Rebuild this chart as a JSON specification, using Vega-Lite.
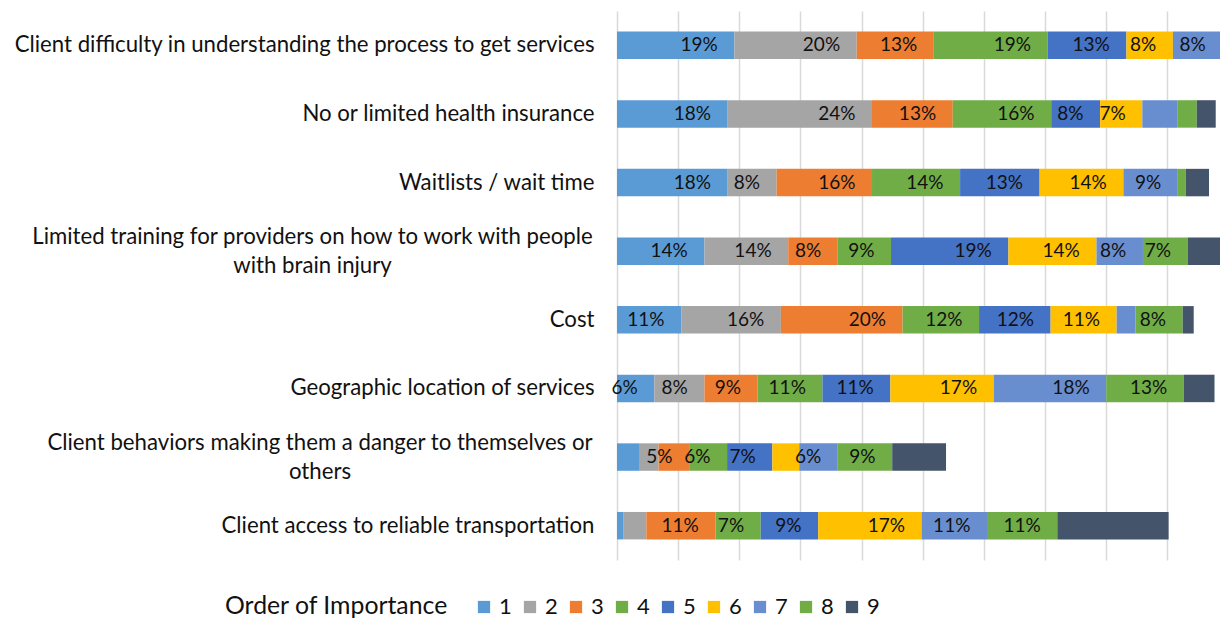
{
  "$schema": "https://vega.github.io/schema/vega-lite/v6.json",
  "width": 603,
  "height": 549,
  "autosize": {"type": "none"},
  "padding": {"left": 617, "top": 11, "right": 0, "bottom": 60},
  "background": "white",
  "config": {
    "font": "Lato",
    "view": {"stroke": null},
    "axis": {"labelFont": "Lato", "titleFont": "Lato"},
    "legend": {"labelFont": "Lato", "titleFont": "Lato"}
  },
  "data": {
    "values": [
      {"item": "Client difficulty in understanding the process to get services", "rank": 1, "pct": 19.2, "label": "19%"},
      {"item": "Client difficulty in understanding the process to get services", "rank": 2, "pct": 20.0, "label": "20%"},
      {"item": "Client difficulty in understanding the process to get services", "rank": 3, "pct": 12.6, "label": "13%"},
      {"item": "Client difficulty in understanding the process to get services", "rank": 4, "pct": 18.6, "label": "19%"},
      {"item": "Client difficulty in understanding the process to get services", "rank": 5, "pct": 12.9, "label": "13%"},
      {"item": "Client difficulty in understanding the process to get services", "rank": 6, "pct": 7.6, "label": "8%"},
      {"item": "Client difficulty in understanding the process to get services", "rank": 7, "pct": 8.1, "label": "8%"},
      {"item": "Client difficulty in understanding the process to get services", "rank": 8, "pct": 0.5, "label": ""},
      {"item": "Client difficulty in understanding the process to get services", "rank": 9, "pct": 0.5, "label": ""},

      {"item": "No or limited health insurance", "rank": 1, "pct": 18.1, "label": "18%"},
      {"item": "No or limited health insurance", "rank": 2, "pct": 23.6, "label": "24%"},
      {"item": "No or limited health insurance", "rank": 3, "pct": 13.2, "label": "13%"},
      {"item": "No or limited health insurance", "rank": 4, "pct": 16.1, "label": "16%"},
      {"item": "No or limited health insurance", "rank": 5, "pct": 8.0, "label": "8%"},
      {"item": "No or limited health insurance", "rank": 6, "pct": 6.9, "label": "7%"},
      {"item": "No or limited health insurance", "rank": 7, "pct": 5.7, "label": ""},
      {"item": "No or limited health insurance", "rank": 8, "pct": 3.2, "label": ""},
      {"item": "No or limited health insurance", "rank": 9, "pct": 3.1, "label": ""},

      {"item": "Waitlists / wait time", "rank": 1, "pct": 18.1, "label": "18%"},
      {"item": "Waitlists / wait time", "rank": 2, "pct": 8.0, "label": "8%"},
      {"item": "Waitlists / wait time", "rank": 3, "pct": 15.6, "label": "16%"},
      {"item": "Waitlists / wait time", "rank": 4, "pct": 14.4, "label": "14%"},
      {"item": "Waitlists / wait time", "rank": 5, "pct": 13.0, "label": "13%"},
      {"item": "Waitlists / wait time", "rank": 6, "pct": 13.7, "label": "14%"},
      {"item": "Waitlists / wait time", "rank": 7, "pct": 8.9, "label": "9%"},
      {"item": "Waitlists / wait time", "rank": 8, "pct": 1.3, "label": ""},
      {"item": "Waitlists / wait time", "rank": 9, "pct": 3.8, "label": ""},

      {"item": "Limited training for providers on how to work with people with brain injury", "rank": 1, "pct": 14.3, "label": "14%"},
      {"item": "Limited training for providers on how to work with people with brain injury", "rank": 2, "pct": 13.7, "label": "14%"},
      {"item": "Limited training for providers on how to work with people with brain injury", "rank": 3, "pct": 8.1, "label": "8%"},
      {"item": "Limited training for providers on how to work with people with brain injury", "rank": 4, "pct": 8.7, "label": "9%"},
      {"item": "Limited training for providers on how to work with people with brain injury", "rank": 5, "pct": 19.2, "label": "19%"},
      {"item": "Limited training for providers on how to work with people with brain injury", "rank": 6, "pct": 14.4, "label": "14%"},
      {"item": "Limited training for providers on how to work with people with brain injury", "rank": 7, "pct": 7.6, "label": "8%"},
      {"item": "Limited training for providers on how to work with people with brain injury", "rank": 8, "pct": 7.3, "label": "7%"},
      {"item": "Limited training for providers on how to work with people with brain injury", "rank": 9, "pct": 6.7, "label": ""},

      {"item": "Cost", "rank": 1, "pct": 10.5, "label": "11%"},
      {"item": "Cost", "rank": 2, "pct": 16.3, "label": "16%"},
      {"item": "Cost", "rank": 3, "pct": 19.9, "label": "20%"},
      {"item": "Cost", "rank": 4, "pct": 12.5, "label": "12%"},
      {"item": "Cost", "rank": 5, "pct": 11.7, "label": "12%"},
      {"item": "Cost", "rank": 6, "pct": 10.8, "label": "11%"},
      {"item": "Cost", "rank": 7, "pct": 3.1, "label": ""},
      {"item": "Cost", "rank": 8, "pct": 7.7, "label": "8%"},
      {"item": "Cost", "rank": 9, "pct": 1.8, "label": ""},

      {"item": "Geographic location of services", "rank": 1, "pct": 6.1, "label": "6%"},
      {"item": "Geographic location of services", "rank": 2, "pct": 8.2, "label": "8%"},
      {"item": "Geographic location of services", "rank": 3, "pct": 8.7, "label": "9%"},
      {"item": "Geographic location of services", "rank": 4, "pct": 10.6, "label": "11%"},
      {"item": "Geographic location of services", "rank": 5, "pct": 11.1, "label": "11%"},
      {"item": "Geographic location of services", "rank": 6, "pct": 16.9, "label": "17%"},
      {"item": "Geographic location of services", "rank": 7, "pct": 18.4, "label": "18%"},
      {"item": "Geographic location of services", "rank": 8, "pct": 12.7, "label": "13%"},
      {"item": "Geographic location of services", "rank": 9, "pct": 5.0, "label": ""},

      {"item": "Client behaviors making them a danger to themselves or others", "rank": 1, "pct": 3.6, "label": ""},
      {"item": "Client behaviors making them a danger to themselves or others", "rank": 2, "pct": 3.2, "label": ""},
      {"item": "Client behaviors making them a danger to themselves or others", "rank": 3, "pct": 5.0, "label": "5%"},
      {"item": "Client behaviors making them a danger to themselves or others", "rank": 4, "pct": 6.2, "label": "6%"},
      {"item": "Client behaviors making them a danger to themselves or others", "rank": 5, "pct": 7.4, "label": "7%"},
      {"item": "Client behaviors making them a danger to themselves or others", "rank": 6, "pct": 4.4, "label": ""},
      {"item": "Client behaviors making them a danger to themselves or others", "rank": 7, "pct": 6.3, "label": "6%"},
      {"item": "Client behaviors making them a danger to themselves or others", "rank": 8, "pct": 8.9, "label": "9%"},
      {"item": "Client behaviors making them a danger to themselves or others", "rank": 9, "pct": 8.8, "label": ""},

      {"item": "Client access to reliable transportation", "rank": 1, "pct": 1.0, "label": ""},
      {"item": "Client access to reliable transportation", "rank": 2, "pct": 3.8, "label": ""},
      {"item": "Client access to reliable transportation", "rank": 3, "pct": 11.3, "label": "11%"},
      {"item": "Client access to reliable transportation", "rank": 4, "pct": 7.4, "label": "7%"},
      {"item": "Client access to reliable transportation", "rank": 5, "pct": 9.4, "label": "9%"},
      {"item": "Client access to reliable transportation", "rank": 6, "pct": 16.9, "label": "17%"},
      {"item": "Client access to reliable transportation", "rank": 7, "pct": 10.7, "label": "11%"},
      {"item": "Client access to reliable transportation", "rank": 8, "pct": 11.5, "label": "11%"},
      {"item": "Client access to reliable transportation", "rank": 9, "pct": 18.2, "label": ""}
    ]
  },
  "transform": [
    {"stack": "pct", "groupby": ["item"], "sort": [{"field": "rank", "order": "ascending"}], "as": ["x0", "x1"]}
  ],
  "encoding": {
    "y": {
      "field": "item",
      "type": "nominal",
      "sort": null,
      "title": null,
      "scale": {"paddingInner": 0.6, "paddingOuter": 0.3},
      "axis": {
        "domain": false,
        "ticks": false,
        "grid": false,
        "labelFontSize": 22.2,
        "labelColor": "#111111",
        "labelLimit": 800,
        "labelLineHeight": 29,
        "labelBaseline": "middle",
        "labelOffset": {"condition": {"test": "indexof(datum.value, 'Limited training') == 0 || indexof(datum.value, 'Client behaviors') == 0", "value": -14.5}, "value": 0},
        "labelPadding": {"condition": [
          {"test": "indexof(datum.value, 'Limited training') == 0", "value": 305},
          {"test": "indexof(datum.value, 'Client behaviors') == 0", "value": 297.5}
        ], "value": 23},
        "labelAlign": {"condition": {"test": "indexof(datum.value, 'Limited training') == 0 || indexof(datum.value, 'Client behaviors') == 0", "value": "center"}, "value": "right"},
        "labelExpr": "datum.value == 'Limited training for providers on how to work with people with brain injury' ? ['Limited training for providers on how to work with people', 'with brain injury'] : datum.value == 'Client behaviors making them a danger to themselves or others' ? ['Client behaviors making them a danger to themselves or', 'others'] : datum.value"
      }
    }
  },
  "layer": [
    {
      "mark": {"type": "bar", "clip": true},
      "encoding": {
        "x": {
          "field": "x0",
          "type": "quantitative",
          "scale": {"domain": [0, 98.6], "nice": false, "zero": false},
          "axis": {
            "orient": "bottom",
            "values": [0, 10, 20, 30, 40, 50, 60, 70, 80, 90],
            "labels": false,
            "ticks": false,
            "domain": false,
            "grid": true,
            "gridColor": "#d9d9d9",
            "gridWidth": 1.5,
            "title": null
          }
        },
        "x2": {"field": "x1"},
        "color": {
          "field": "rank",
          "type": "nominal",
          "scale": {
            "domain": [1, 2, 3, 4, 5, 6, 7, 8, 9],
            "range": ["#5B9BD5", "#A5A5A5", "#ED7D31", "#70AD47", "#4472C4", "#FFC000", "#698ED0", "#70AD47", "#44546A"]
          },
          "legend": {
            "title": "Order of Importance",
            "orient": "none",
            "legendX": -392,
            "legendY": 585,
            "direction": "horizontal",
            "columns": 9,
            "titleOrient": "left",
            "titleFontSize": 24.8,
            "titleLimit": 500,
            "titleFontWeight": "normal",
            "titleColor": "#111111",
            "titlePadding": 24,
            "titleBaseline": "middle",
            "labelFontSize": 22,
            "labelColor": "#111111",
            "labelOffset": 4,
            "symbolType": "square",
            "symbolSize": 150,
            "symbolStrokeWidth": 0,
            "symbolOpacity": 1,
            "columnPadding": 7
          }
        }
      }
    },
    {
      "transform": [{"filter": "datum.label != ''"}],
      "mark": {"type": "text", "align": "right", "baseline": "middle", "dx": -16.6, "fontSize": 19, "color": "#111111"},
      "encoding": {
        "x": {"field": "x1", "type": "quantitative"},
        "text": {"field": "label"}
      }
    }
  ]
}
